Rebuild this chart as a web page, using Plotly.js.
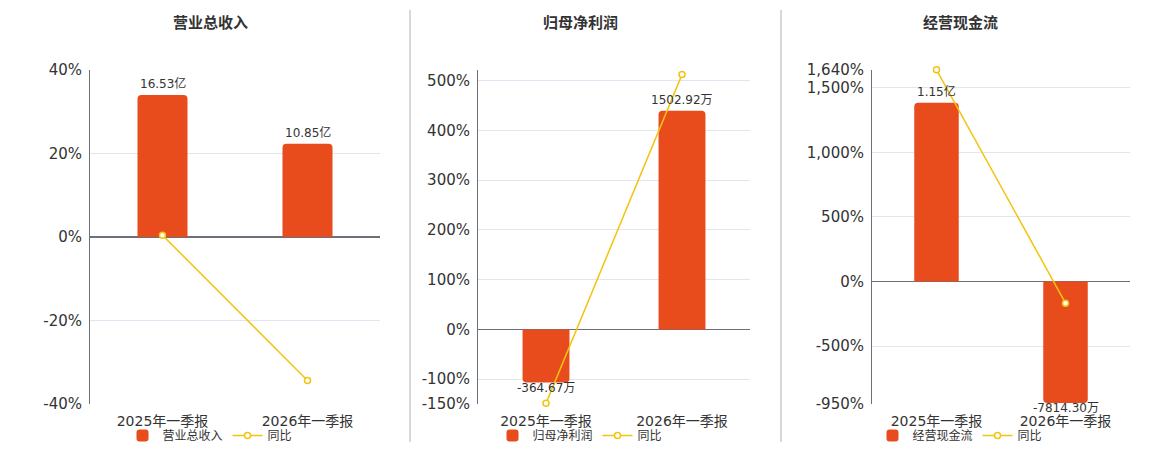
<!DOCTYPE html>
<html>
<head>
<meta charset="utf-8">
<script src="https://cdn.plot.ly/plotly-3.0.1.min.js"></script>
<style>
  html, body { margin: 0; padding: 0; background: #fff; }
  #chart { width: 1160px; height: 450px; }
</style>
</head>
<body>
<div id="chart"></div>
<script>
// ---- data (bar values in 万元, yoy in %) ----
const categories = ['2025年一季报', '2026年一季报'];
const panelTitles = ['营业总收入', '归母净利润', '经营现金流'];
const yoyName = '同比';

const revenueValues = [165300, 108500];
const revenueYoY = [0.43, -34.36];
const revenueTicks = [-40, -20, 0, 20, 40];

const profitValues = [-364.67, 1502.92];
const profitYoY = [-148.5, 512.13];
const profitTicks = [-150, -100, 0, 100, 200, 300, 400, 500];

const cashValues = [11500, -7814.30];
const cashYoY = [1640, -167.95];
const cashTicks = [-950, -500, 0, 500, 1000, 1500, 1640];

// ---- styling ----
const BAR = '#e84b1c';
const LINE = '#f2c40f';
const GRID = '#e0e6f1';
const AXIS = '#6e7079';
const TXT = '#333';
const FONT = '"DejaVu Sans", "Noto Sans CJK SC", sans-serif';

function fmtAmount(v) {
  if (Math.abs(v) >= 10000) return (v / 10000).toFixed(2) + '亿';
  return v.toFixed(2) + '万';
}
function tickText(ticks) {
  return ticks.map(v => v.toLocaleString('en-US') + '%');
}

const panels = [
  { values: revenueValues, yoy: revenueYoY, ticks: revenueTicks, range: [-40, 40], scale: 4862,
    xdom: [90/1160, 380/1160], titleX: 210/1160 },
  { values: profitValues, yoy: profitYoY, ticks: profitTicks, range: [-150, 521.7], scale: 3.42,
    xdom: [478/1160, 750/1160], titleX: 580/1160 },
  { values: cashValues, yoy: cashYoY, ticks: cashTicks, range: [-950, 1640], scale: 8.3,
    xdom: [872/1160, 1130/1160], titleX: 960/1160 }
];

const traces = [];
const layout = {
  width: 1160, height: 450,
  margin: { l: 0, r: 0, t: 0, b: 0 },
  paper_bgcolor: '#fff', plot_bgcolor: 'rgba(0,0,0,0)',
  font: { family: FONT, color: TXT, size: 12 },
  bargap: 0.655,
  showlegend: true,
  annotations: [],
  shapes: []
};

panels.forEach((p, i) => {
  const xName = i === 0 ? 'x' : 'x' + (i + 1);
  const barY = 'y' + (i === 0 ? '' : (2 * i + 1));
  const lineY = 'y' + (2 * i + 2);
  const legName = i === 0 ? 'legend' : 'legend' + (i + 1);
  const xKey = i === 0 ? 'xaxis' : 'xaxis' + (i + 1);
  const barYKey = i === 0 ? 'yaxis' : 'yaxis' + (2 * i + 1);
  const lineYKey = 'yaxis' + (2 * i + 2);

  traces.push({
    type: 'bar', name: panelTitles[i], x: categories, y: p.values,
    xaxis: xName, yaxis: barY, legend: legName,
    marker: { color: BAR, cornerradius: 4 },
    hoverinfo: 'x+y'
  });
  traces.push({
    type: 'scatter', mode: 'lines+markers', name: yoyName, x: categories, y: p.yoy,
    xaxis: xName, yaxis: lineY, legend: legName,
    line: { color: LINE, width: 1.5 },
    marker: { symbol: 'circle', size: 6, color: '#fff', line: { color: LINE, width: 1.5 } },
    cliponaxis: false
  });

  // value labels at bar ends
  p.values.forEach((v, j) => {
    layout.annotations.push({
      xref: xName, yref: barY, x: categories[j], y: v,
      text: fmtAmount(v), showarrow: false,
      xanchor: 'center', yanchor: 'middle', yshift: v >= 0 ? 11 : -5,
      font: { size: 12, color: TXT, family: FONT }
    });
  });

  layout[xKey] = {
    domain: p.xdom, anchor: barY, type: 'category',
    showgrid: false, showline: false, zeroline: false, ticks: '',
    ticklabelstandoff: 7,
    tickfont: { size: 14, color: TXT }, fixedrange: true
  };
  layout[barYKey] = {
    domain: [0.1, 1 - 70/450], anchor: xName,
    range: [p.range[0] * p.scale, p.range[1] * p.scale],
    visible: false, fixedrange: true
  };
  layout[lineYKey] = {
    overlaying: barY, anchor: xName, side: 'left',
    range: p.range, tickvals: p.ticks, ticktext: tickText(p.ticks),
    showgrid: true, gridcolor: GRID, gridwidth: 1,
    zeroline: true, zerolinecolor: AXIS, zerolinewidth: 1.5,
    showline: true, linecolor: AXIS, linewidth: 1,
    ticks: '', ticklabelstandoff: 4,
    tickfont: { size: 15, color: TXT }, fixedrange: true
  };
  layout[legName] = {
    orientation: 'h', x: p.titleX, xanchor: 'center', y: 1 - 436/450, yanchor: 'middle',
    font: { size: 12, color: TXT, family: FONT }, bgcolor: 'rgba(0,0,0,0)',
    itemwidth: 30, tracegroupgap: 0
  };
  layout.annotations.push({
    xref: 'paper', yref: 'paper', x: p.titleX, y: 1 - 23/450,
    xanchor: 'center', yanchor: 'middle', showarrow: false,
    text: '<b>' + panelTitles[i] + '</b>', font: { size: 15, color: TXT, family: FONT }
  });
});

[410, 781].forEach(px => {
  layout.shapes.push({
    type: 'line', xref: 'paper', yref: 'paper',
    x0: px/1160, x1: px/1160, y0: 1 - 10/450, y1: 1 - 443/450,
    line: { color: '#b0b0b0', width: 1 }
  });
});

Plotly.newPlot('chart', traces, layout, { displayModeBar: false, staticPlot: true });
</script>
</body>
</html>
